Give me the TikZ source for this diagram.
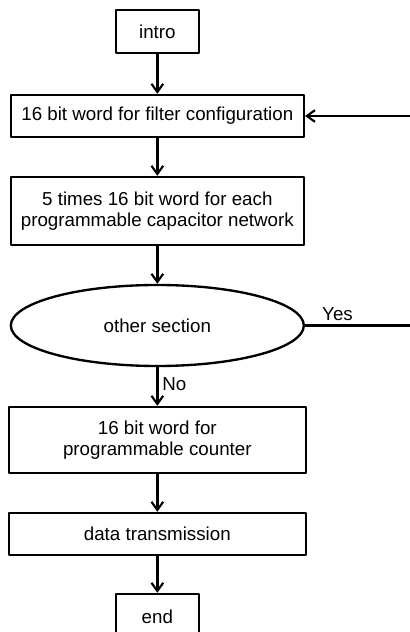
\documentclass[tikz,border=0pt]{standalone}
\usepackage{fontspec}
\setmainfont{Liberation Sans}
\usetikzlibrary{shapes.geometric,arrows.meta}
\begin{document}
\begin{tikzpicture}[line cap=round,line join=round,>={Straight Barb[length=7pt,width=10pt,line width=1.8pt]},
  line width=2pt,font=\fontsize{16}{18.5}\selectfont,
  blk/.style={draw,rectangle,align=center,inner sep=2pt,minimum width=8.79cm,minimum height=1.26cm},
  sblk/.style={draw,rectangle,inner sep=2pt,minimum width=2.49cm,minimum height=1.29cm}]
\clip(0,0) rectangle (12.3,18.96);
\node[sblk] (intro) at (4.72,18.015) {intro};
\node[blk] (filt) at (4.72,15.48) {16 bit word for filter configuration};
\node[blk,minimum height=2.04cm] (cap) at (4.72,12.63) {5 times 16 bit word for each\\programmable capacitor network};
\node[draw,ellipse,minimum width=8.79cm,minimum height=2.43cm] (sect) at (4.72,9.195) {other section};
\node[blk,minimum width=8.91cm,minimum height=1.98cm] (cnt) at (4.72,5.76) {16 bit word for\\programmable counter};
\node[blk,minimum width=8.91cm] (tx) at (4.72,2.94) {data transmission};
\node[sblk,minimum height=1.38cm] (end) at (4.72,0.45) {end};
\coordinate (ryes) at (12.4,9.195);
\coordinate (rback) at (12.4,15.48);
\draw[->] (intro)--(filt);
\draw[->] (filt)--(cap);
\draw[->] (cap)--(sect);
\draw[->] (sect)--(cnt) node[right,pos=0.45]{No};
\draw[->] (cnt)--(tx);
\draw[->] (tx)--(end);
\draw (sect.east)--(ryes) node[above,pos=0.3]{Yes};
\draw[->] (rback)--(filt.east);
\end{tikzpicture}
\end{document}
